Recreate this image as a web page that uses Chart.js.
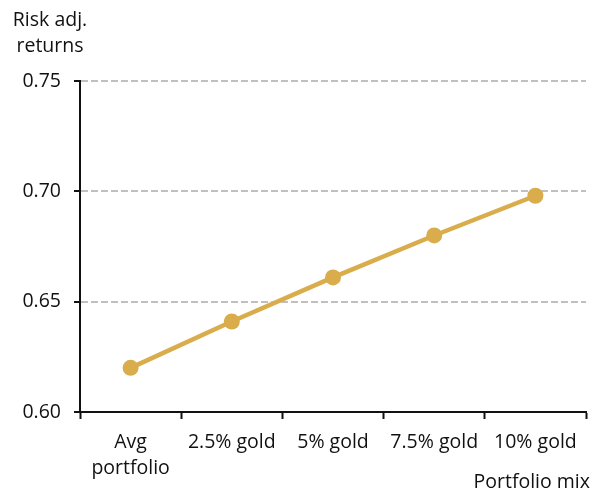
<!DOCTYPE html>
<html>
<head>
  <meta charset="utf-8">
  <title>Risk adjusted returns</title>
  <script src="https://cdn.jsdelivr.net/npm/chart.js@4"></script>
  <style>
    body { margin: 0; background: #fff; }
    #wrap { position: relative; width: 605px; height: 494px; }
  </style>
</head>
<body>
  <div id="wrap">
    <canvas id="canvas"></canvas>
  </div>
  <script>
    // categories on the x axis
    const mixes = [['Avg', 'portfolio'], '2.5% gold', '5% gold', '7.5% gold', '10% gold'];
    // risk adjusted return for each mix
    const riskAdj = [0.620, 0.641, 0.661, 0.680, 0.698];
    // y axis range
    const yMin = 0.60, yMax = 0.75, yStep = 0.05;

    const gold = '#d9ad4c';
    const fontFamily = '"Open Sans", "Noto Sans", sans-serif';
    const fontSize = 19.5;

    // axis captions drawn outside the plot area
    const captions = {
      id: 'captions',
      afterDraw(chart) {
        const ctx = chart.ctx;
        ctx.save();
        ctx.fillStyle = '#111';
        ctx.font = fontSize + 'px ' + fontFamily;
        ctx.textAlign = 'center';
        ctx.textBaseline = 'alphabetic';
        ctx.fillText('Risk adj.', 50, 26);
        ctx.fillText('returns', 50, 52);
        ctx.textAlign = 'right';
        ctx.fillText('Portfolio mix', 590, 488);
        ctx.restore();
      }
    };

    new Chart(document.getElementById('canvas'), {
      type: 'line',
      data: {
        labels: mixes,
        datasets: [{
          data: riskAdj,
          borderColor: gold,
          backgroundColor: gold,
          borderWidth: 4.5,
          pointRadius: 8,
          pointHoverRadius: 8,
          pointBorderWidth: 0,
          tension: 0
        }]
      },
      options: {
        responsive: true,
        maintainAspectRatio: false,
        animation: false,
        layout: { padding: { top: 81, right: 19, left: 0, bottom: 0 } },
        plugins: {
          legend: { display: false },
          tooltip: { enabled: false }
        },
        scales: {
          x: {
            offset: true,
            afterFit(scale) { scale.height = 82; },
            grid: {
              offset: true,
              drawOnChartArea: false,
              tickLength: 7,
              tickColor: '#111',
              tickWidth: 2
            },
            border: { color: '#111', width: 2 },
            ticks: {
              color: '#111',
              padding: 11,
              maxRotation: 0,
              autoSkip: false,
              font: { family: fontFamily, size: fontSize, lineHeight: 1.3 }
            }
          },
          y: {
            min: yMin,
            max: yMax,
            afterFit(scale) { scale.width = 80; },
            grid: {
              color: ctx => ctx.tick && ctx.tick.value === yMin ? 'rgba(0,0,0,0)' : '#c0c0c0',
              lineWidth: 2,
              tickLength: 6,
              tickColor: '#111',
              tickWidth: 2
            },
            border: { color: '#111', width: 2, dash: [7, 3] },
            ticks: {
              stepSize: yStep,
              color: '#111',
              padding: 13,
              font: { family: fontFamily, size: fontSize },
              callback: v => v.toFixed(2)
            }
          }
        }
      },
      plugins: [captions]
    });
  </script>
</body>
</html>
